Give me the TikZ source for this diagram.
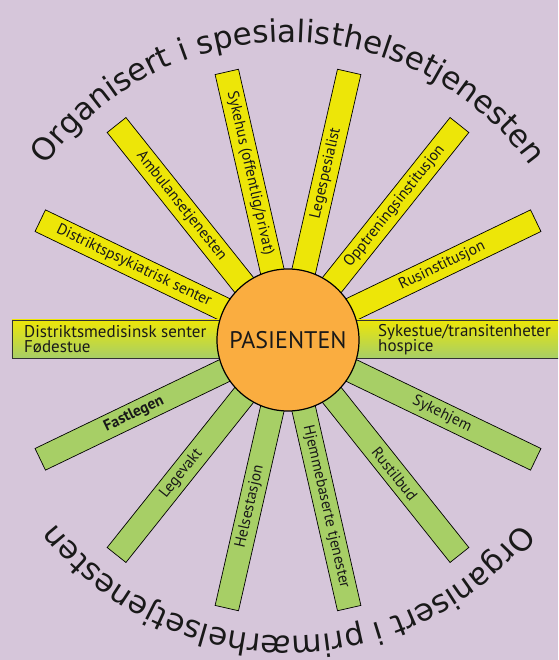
\documentclass[tikz,border=0pt]{standalone}
\usepackage{fontspec}
\setmainfont{PT Sans}
\newfontfamily\arcfam{DejaVu Sans}
\usetikzlibrary{decorations.text}
\definecolor{bg}{RGB}{214,198,218}
\definecolor{yel}{RGB}{237,230,8}
\definecolor{grn}{RGB}{167,207,102}
\definecolor{org}{RGB}{250,173,64}
\definecolor{ink}{RGB}{25,25,25}
\newcommand\arcstyle{\fontsize{31}{31}\selectfont\arcfam}
\begin{document}
\begin{tikzpicture}[x=1pt,y=1pt,
  raybox/.style={draw=black, line width=0.7pt, minimum width=215pt, minimum height=24pt, inner sep=0pt, outer sep=0pt},
  ylw/.style={raybox, fill=yel},
  grnray/.style={raybox, fill=grn},
  lbl/.style={font=\fontsize{15.5}{15.5}\selectfont, text=ink, inner sep=0pt},
  hlbl/.style={font=\fontsize{17}{15}\selectfont, text=ink, inner sep=0pt, anchor=base west},
  hbar/.style={draw=black!80, line width=0.8pt, top color=yel, bottom color=grn, minimum height=38pt, inner sep=0pt, outer sep=0pt},
  hub/.style={circle, draw=black, line width=1.2pt, fill=org, minimum size=142pt, inner sep=0pt, text=ink, font=\fontsize{24}{24}\selectfont},
  arctext/.style={decorate, decoration={text along path, text align=center, text color=ink, text={#1}}}
]
\useasboundingbox (-288,-320) rectangle (270,340);
\fill[bg] (-288,-320) rectangle (270,340);
\clip (-288,-320) rectangle (270,340);

% upper rays (yellow)
\node[ylw, rotate=25.714] (r1) at (25.714:167.5) {};
\node[ylw, rotate=51.429] (r2) at (51.429:167.5) {};
\node[ylw, rotate=77.143] (r3) at (77.143:167.5) {};
\node[ylw, rotate=102.857] (r4) at (102.857:167.5) {};
\node[ylw, rotate=128.571] (r5) at (128.571:167.5) {};
\node[ylw, rotate=154.286] (r6) at (154.286:167.5) {};
% lower rays (green)
\node[grnray, rotate=205.714] (r8) at (205.714:167.5) {};
\node[grnray, rotate=231.429] (r9) at (231.429:167.5) {};
\node[grnray, rotate=257.143] (r10) at (257.143:167.5) {};
\node[grnray, rotate=282.857] (r11) at (282.857:167.5) {};
\node[grnray, rotate=308.571] (r12) at (308.571:167.5) {};
\node[grnray, rotate=334.286] (r13) at (334.286:167.5) {};
% horizontal bars
\node[hbar, minimum width=276pt, anchor=east] (hl) at (0,1) {};
\node[hbar, minimum width=300pt, anchor=west] (hr) at (0,1) {};

% labels
\node[lbl, rotate=25.714] (l1) at (25.714:171) {Rusinstitusjon};
\node[lbl, rotate=51.429] (l2) at (51.429:171) {Opptreningsinstitusjon};
\node[lbl, rotate=77.143] (l3) at (77.143:171) {Legespesialist};
\node[lbl, rotate=-77.143] (l4) at (102.857:171) {Sykehus (offentlig/privat)};
\node[lbl, rotate=-51.429] (l5) at (128.571:171) {Ambulansetjenesten};
\node[lbl, rotate=-25.714] (l6) at (154.286:171) {Distriktspsykiatrisk senter};
\node[lbl, rotate=25.714, font=\fontsize{15.5}{15.5}\selectfont\bfseries] (l8) at (205.714:171) {Fastlegen};
\node[lbl, rotate=51.429] (l9) at (231.429:171) {Legevakt};
\node[lbl, rotate=77.143] (l10) at (257.143:171) {Helsestasjon};
\node[lbl, rotate=-77.143] (l11) at (282.857:171) {Hjemmebaserte tjenester};
\node[lbl, rotate=-51.429] (l12) at (308.571:171) {Rustilbud};
\node[lbl, rotate=-25.714] (l13) at (334.286:171) {Sykehjem};

\node[hlbl] (hl1) at (-264,2) {Distriktsmedisinsk senter};
\node[hlbl] (hl2) at (-264,-13) {Fødestue};
\node[hlbl] (hr1) at (90,3) {Sykestue/transitenheter};
\node[hlbl] (hr2) at (90,-12) {hospice};

% centre
\node[hub] (pas) at (0,0) {PASIENTEN};

% arc texts
\path[arctext={|\arcstyle|Organisert i spesialisthelsetjenesten}] (180:298) arc[start angle=180, end angle=0, radius=298];
\path[arctext={|\arcstyle|Organisert i primærhelsetjenesten}] (0:296) arc[start angle=0, end angle=-180, radius=296];
\end{tikzpicture}
\end{document}
